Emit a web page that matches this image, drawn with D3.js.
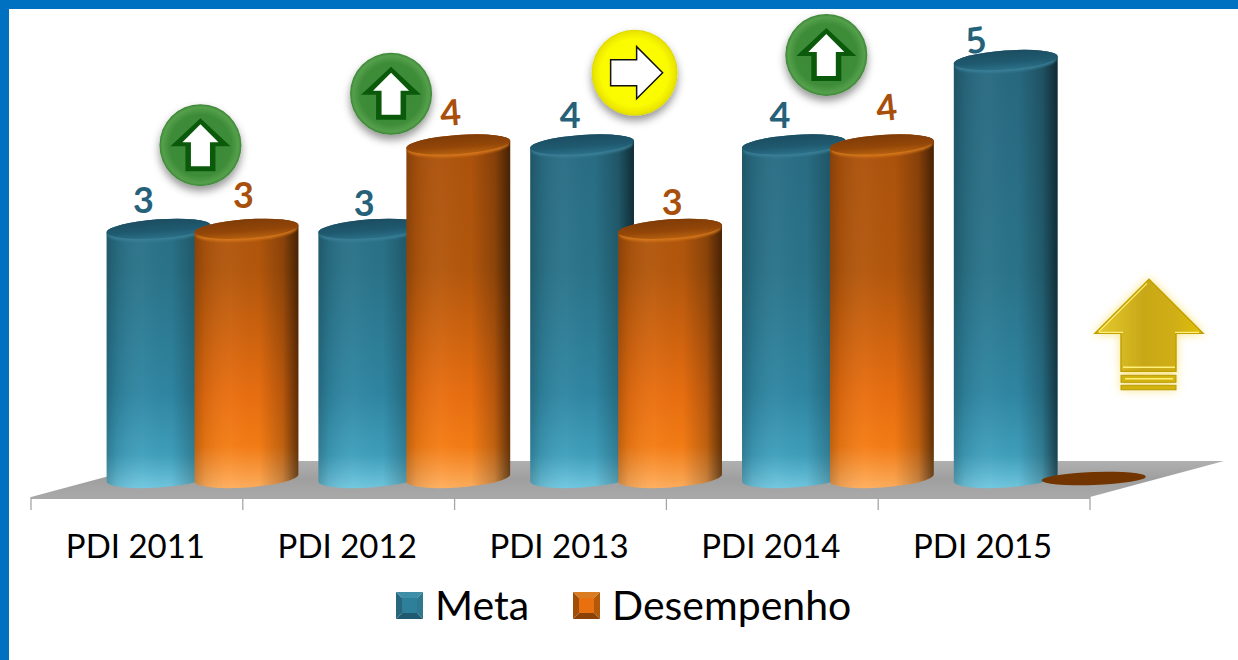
<!DOCTYPE html>
<html><head><meta charset="utf-8">
<script src="https://cdn.jsdelivr.net/npm/d3@7/dist/d3.min.js"></script>
<style>html,body{margin:0;padding:0;background:#fff;overflow:hidden}svg{display:block}text{font-family:Lato,sans-serif}</style>
</head><body><svg id="c" width="1238" height="660"></svg>
<script>
const categories=["PDI 2011","PDI 2012","PDI 2013","PDI 2014","PDI 2015"];
const metaValues=[3,3,4,4,5];
const desempenhoValues=[3,4,3,4,0];
const seriesNames=["Meta","Desempenho"];
const statusIcons=["up","up","right","up"];
const iconLevels=[3.99,4.6,4.85,5.06];

const W=1238,H=660;
const svg=d3.select("#c");
const defs=svg.append("defs");
const x=d3.scaleBand().domain(categories).range([31,1090]);
const y=d3.scaleLinear().domain([0,5]).range([482,60]);
const sub=d3.scaleOrdinal().domain(seriesNames).range([127.5,215.5]);
const floorY=497, backY=461, depth=134;
const rx=52, ry=9.5, tilt=4;
const dxT=rx*Math.cos(tilt*Math.PI/180), dyT=rx*Math.sin(tilt*Math.PI/180);
const BASE=478;

function linear(id,stops,attrs){
  const g=defs.append("linearGradient").attr("id",id);
  Object.entries(attrs).forEach(([k,v])=>g.attr(k,v));
  stops.forEach(s=>g.append("stop").attr("offset",s[0]).attr("stop-color",s[1]).attr("stop-opacity",s[2]===undefined?1:s[2]));
}
const vert={gradientUnits:"userSpaceOnUse",x1:0,x2:0,y1:50,y2:490};
linear("bodyMeta",[[0,"#28687f"],[.5,"#2a7389"],[.78,"#2f86a2"],[.92,"#3f9fbc"],[1,"#72c9e1"]],vert);
linear("bodyDes",[[0,"#a84f0c"],[.5,"#b3570c"],[.78,"#e86e10"],[.9,"#f47c14"],[1,"#ffb060"]],vert);
linear("edge",[[0,"#000",.22],[.1,"#000",.08],[.35,"#fff",.03],[.62,"#000",.01],[.85,"#000",.22],[1,"#000",.6]],{x1:0,x2:1,y1:0,y2:0});
linear("capMeta",[[0,"#1c4d61"],[.6,"#1f5a70"],[1,"#2b7087"]],{x1:0,x2:0,y1:0,y2:1});
linear("capDes",[[0,"#7f3c07"],[.6,"#934608"],[1,"#b5600f"]],{x1:0,x2:0,y1:0,y2:1});
linear("floorG",[[0,"#b0b0b0"],[.5,"#9f9f9f"],[1,"#a9a9a9"]],{x1:0,x2:0,y1:0,y2:1});
linear("gold",[[0,"#e8cc30"],[.45,"#c8a818"],[.75,"#d0ae12"],[1,"#e2c210"]],{x1:0,x2:1,y1:0,y2:0});
const rg=(id,stops)=>{const g=defs.append("radialGradient").attr("id",id).attr("cx",.5).attr("cy",.5).attr("r",.5);
  stops.forEach(s=>g.append("stop").attr("offset",s[0]).attr("stop-color",s[1]));};
rg("greenBall",[[0,"#3a8a35"],[.75,"#3e8c38"],[.93,"#55a04c"],[1,"#3b8435"]]);
rg("yellowBall",[[0,"#ffff00"],[.78,"#fbfb00"],[.95,"#ebe600"],[1,"#dcd600"]]);
const sh=defs.append("filter").attr("id","shadow").attr("x","-30%").attr("y","-30%").attr("width","160%").attr("height","170%");
sh.append("feDropShadow").attr("dx",0).attr("dy",5).attr("stdDeviation",4).attr("flood-color","#000").attr("flood-opacity",.42);
const gl=defs.append("filter").attr("id","glow").attr("x","-30%").attr("y","-30%").attr("width","160%").attr("height","160%");
gl.append("feDropShadow").attr("dx",0).attr("dy",0).attr("stdDeviation",5).attr("flood-color","#f5d84a").attr("flood-opacity",.7);
const bl=defs.append("filter").attr("id","soft").attr("x","-20%").attr("y","-50%").attr("width","140%").attr("height","200%");
bl.append("feGaussianBlur").attr("stdDeviation",1.2);

// frame
svg.append("rect").attr("width",W).attr("height",9).attr("fill","#0070c0");
svg.append("rect").attr("width",9).attr("height",H).attr("fill","#0070c0");

// floor
const [x0,x1]=x.range();
svg.append("path").attr("d",`M${x0},${floorY}L${x1},${floorY}L${x1+depth},${backY}L${x0+depth},${backY}Z`).attr("fill","url(#floorG)");
svg.append("line").attr("x1",x0).attr("x2",x1).attr("y1",floorY+1).attr("y2",floorY+1).attr("stroke","#a8a8a8").attr("stroke-width",2);

// axis
const axis=d3.axisBottom(x).tickSize(0).tickPadding(0);
const axisG=svg.append("g").attr("transform",`translate(0,${floorY})`).call(axis);
axisG.select(".domain").remove();
axisG.selectAll("text").attr("font-size",33).attr("fill","#000").attr("y",38).attr("dy",".71em").attr("dx",-1.5).style("font-family","Lato");
[...x.domain().map(d=>x(d)),x1].forEach(t=>axisG.append("line").attr("x1",t).attr("x2",t).attr("y1",0).attr("y2",13).attr("stroke","#a6a6a6").attr("stroke-width",1.3));

// cylinders
const rows=[];
categories.forEach((c,i)=>{
  rows.push({c,i,s:"Meta",v:metaValues[i]});
  rows.push({c,i,s:"Desempenho",v:desempenhoValues[i]});
});
function body(cx,top){
  return `M${cx-dxT},${top+dyT}L${cx-dxT},${BASE+dyT}A${rx},${ry} ${-tilt} 0 0 ${cx+dxT},${BASE-dyT}L${cx+dxT},${top-dyT}A${rx},${ry} ${-tilt} 0 0 ${cx-dxT},${top+dyT}Z`;
}
const cyl=svg.append("g").selectAll("g").data(rows).join("g");
cyl.each(function(d){
  const g=d3.select(this), cx=x(d.c)+sub(d.s), top=Math.min(y(d.v),BASE), m=d.s==="Meta";
  if(d.v>0){
    g.append("path").attr("d",body(cx,top)).attr("fill",m?"url(#bodyMeta)":"url(#bodyDes)");
    g.append("path").attr("d",body(cx,top)).attr("fill","url(#edge)");
    g.append("ellipse").attr("cx",cx).attr("cy",top+2.5).attr("rx",rx-1).attr("ry",ry)
      .attr("transform",`rotate(${-tilt} ${cx} ${top+2.5})`).attr("fill",m?"#3a8098":"#d8791c").attr("filter","url(#soft)").attr("opacity",.9);
    g.append("ellipse").attr("cx",cx).attr("cy",top).attr("rx",rx).attr("ry",ry)
      .attr("transform",`rotate(${-tilt} ${cx} ${top})`).attr("fill",m?"url(#capMeta)":"url(#capDes)");
  } else {
    g.append("ellipse").attr("cx",cx).attr("cy",BASE+0.5).attr("rx",rx).attr("ry",6.5)
      .attr("transform",`rotate(${-tilt/2} ${cx} ${BASE})`).attr("fill","#733500");
  }
});

// data labels (hand-placed in the source)
const labelDx=[-15,-3,-6,-7,-12,2,-14,6,-28,0];
const labelLift=[16,21,13,19,16,14,16,24,7,0];
const labelRot=[0,0,0,-4,0,0,0,-6,-8,0];
svg.append("g").selectAll("text").data(rows.filter(d=>d.v>0)).join("text")
  .attr("transform",d=>{
    const idx=rows.indexOf(d);
    const px=x(d.c)+sub(d.s)+labelDx[idx], py=y(d.v)-labelLift[idx];
    return `translate(${px},${py}) rotate(${labelRot[idx]})`;})
  .attr("text-anchor","middle").attr("font-size",36).attr("font-weight",700)
  .attr("fill",d=>d.s==="Meta"?"#25627a":"#a84f0c").text(d=>d3.format(".0f")(d.v));

// status icons
const upOuter="M0,-27 L30,1 L15,1 L15,26 L-15,26 L-15,1 L-30,1 Z";
const upInner="M0,-21 L18,-3 L9.5,-3 L9.5,21 L-9.5,21 L-9.5,-3 L-18,-3 Z";
const rightArrow="M-24,-13 L2,-13 L2,-26 L28,0 L2,26 L2,13 L-24,13 Z";
const ic=svg.append("g").selectAll("g").data(statusIcons).join("g")
  .attr("transform",(d,i)=>`translate(${x(categories[i])+x.bandwidth()*[.80,.70,.85,.755][i]},${y(iconLevels[i])})`);
ic.append("circle").attr("r",d=>d==="up"?41:43).attr("fill",d=>d==="up"?"url(#greenBall)":"url(#yellowBall)").attr("filter","url(#shadow)");
ic.filter(d=>d==="up").append("path").attr("d",upOuter).attr("fill","#0b5a0b");
ic.filter(d=>d==="up").append("path").attr("d",upInner).attr("fill","#fff");
ic.filter(d=>d==="right").append("path").attr("d",rightArrow).attr("fill","#fff").attr("stroke","#111").attr("stroke-width",1.5);

// big gold arrow
const gold=svg.append("g").attr("transform",`translate(${x1+59},${y(1.75)})`);
const ga=gold.append("g").attr("filter","url(#glow)");
ga.append("path").attr("d","M0,-55 L54,-1 L27,-1 L27,37 L-28,37 L-28,-1 L-54,-1 Z").attr("fill","url(#gold)").attr("stroke","#c2a000").attr("stroke-width",1.5);
ga.append("rect").attr("x",-28).attr("y",41).attr("width",55).attr("height",7).attr("fill","#d3b410").attr("stroke","#b89a00");
ga.append("rect").attr("x",-28).attr("y",51).attr("width",55).attr("height",4.5).attr("fill","#d3b410").attr("stroke","#b89a00");
ga.append("path").attr("d","M-26,33L26,33M-24,44.5L24,44.5").attr("stroke","#fff07a").attr("stroke-width",1.5);
ga.append("path").attr("d","M-50,-3L-2,-51M-50,-2L-26,-2M26,-2L50,-2").attr("stroke","#fff07a").attr("stroke-width",1.2).attr("fill","none");

// legend
const leg=[{n:seriesNames[0],sx:396,tx:435,c:["#3f8ea8","#2f7890","#1f5a70","#28667e","#2e7f9a"]},
           {n:seriesNames[1],sx:573,tx:612,c:["#d97c22","#b35a0a","#8a4206","#a14e08","#e8700f"]}];
leg.forEach(l=>{
  const g=svg.append("g").attr("transform",`translate(${l.sx},592)`), s=27, b=6;
  g.append("path").attr("d",`M0,0H${s}L${s-b},${b}H${b}Z`).attr("fill",l.c[0]);
  g.append("path").attr("d",`M${s},0V${s}L${s-b},${s-b}V${b}Z`).attr("fill",l.c[1]);
  g.append("path").attr("d",`M0,${s}H${s}L${s-b},${s-b}H${b}Z`).attr("fill",l.c[2]);
  g.append("path").attr("d",`M0,0V${s}L${b},${s-b}V${b}Z`).attr("fill",l.c[3]);
  g.append("rect").attr("x",b).attr("y",b).attr("width",s-2*b).attr("height",s-2*b).attr("fill",l.c[4]);
  svg.append("text").attr("x",l.tx).attr("y",620).attr("font-size",41).attr("fill","#000").text(l.n);
});
</script></body></html>
